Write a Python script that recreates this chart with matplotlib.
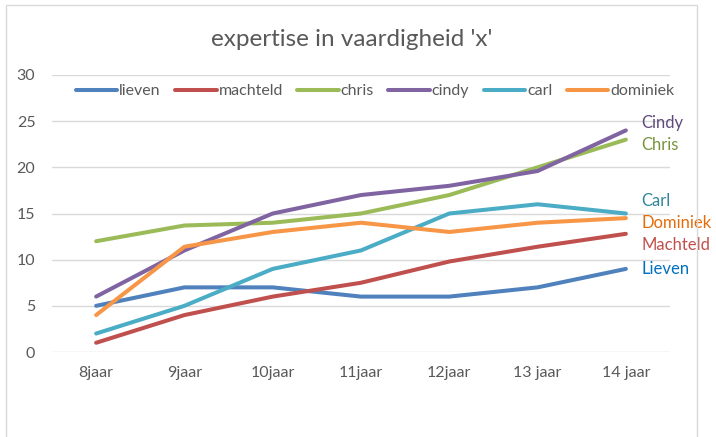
import matplotlib.pyplot as plt
from matplotlib.patches import Rectangle

plt.rcParams['font.family'] = ['Lato', 'DejaVu Sans']

leeftijd = ["8jaar", "9jaar", "10jaar", "11jaar", "12jaar", "13 jaar", "14 jaar"]

lieven = [5, 7, 7, 6, 6, 7, 9]
machteld = [1, 4, 6, 7.5, 9.8, 11.4, 12.8]
chris = [12, 13.7, 14, 15, 17, 20, 23]
cindy = [6, 11, 15, 17, 18, 19.6, 24]
carl = [2, 5, 9, 11, 15, 16, 15]
dominiek = [4, 11.4, 13, 14, 13, 14, 14.5]

namen = ["lieven", "machteld", "chris", "cindy", "carl", "dominiek"]
reeksen = [lieven, machteld, chris, cindy, carl, dominiek]
kleuren = ["#4F81BD", "#C0504D", "#9BBB59", "#8064A2", "#4BACC6", "#F79646"]

# labels rechts naast de lijnen
label_tekst = ["Lieven", "Machteld", "Chris", "Cindy", "Carl", "Dominiek"]
label_y = [9, 11.6, 22.4, 24.8, 16.4, 14]
label_kleur = ["#0070C0", "#C0504D", "#77933C", "#604A7B", "#31849B", "#E46C0A"]

fig = plt.figure(figsize=(7.16, 4.37), dpi=100)
fig.patches.append(Rectangle((6/716, -0.1), 691/716, 1.1 - 5/437, transform=fig.transFigure,
                             fill=False, edgecolor="#D9D9D9", linewidth=1))
ax = fig.add_axes([52/716, 1 - 352/437, 618/716, 277/437])

x = range(len(leeftijd))
for naam, r, k in zip(namen, reeksen, kleuren):
    ax.plot(x, r, color=k, linewidth=2.9, label=naam, solid_capstyle="round")

for t, y, k in zip(label_tekst, label_y, label_kleur):
    ax.text(6.18, y, t, color=k, fontsize=12, va="center", ha="left", clip_on=False)

ax.set_xlim(-0.5, 6.5)
ax.set_ylim(0, 30)
ax.set_yticks(range(0, 31, 5))
ax.set_xticks(list(x))
ax.set_xticklabels(leeftijd)
ax.grid(axis="y", color="#D9D9D9", linewidth=1)
ax.set_axisbelow(True)
for s in ax.spines.values():
    s.set_visible(False)
ax.tick_params(length=0, colors="#595959", labelsize=11.5)
ax.tick_params(axis="x", pad=10)
ax.tick_params(axis="y", pad=12)

fig.text(352/716, 1 - 40/437, "expertise in vaardigheid 'x'", fontsize=17.5, color="#595959",
         ha="center", va="center")
fig.legend(loc="center", bbox_to_anchor=(375/716, 1 - 91/437), ncol=6, frameon=False,
           fontsize=11.5, handlelength=2.6, handletextpad=0.12, columnspacing=0.9,
           labelcolor="#595959")

fig.savefig("out.png", dpi=100)
